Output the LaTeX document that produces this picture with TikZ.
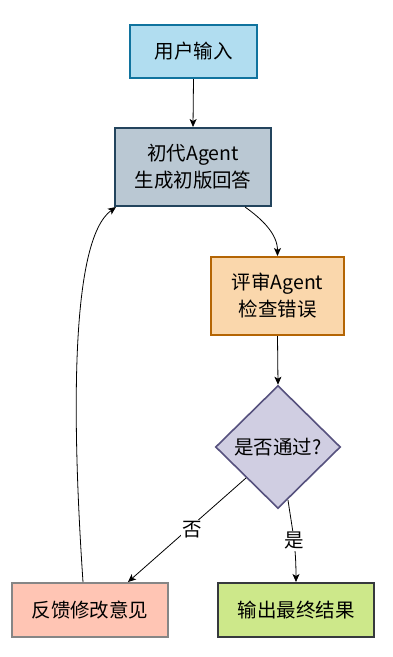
\documentclass[tikz,border=0pt]{standalone}
\usepackage{fontspec}
\setmainfont{Noto Sans CJK SC}
\usetikzlibrary{shapes.geometric,arrows.meta}
\definecolor{bluefill}{HTML}{B1DDF0}\definecolor{bluedraw}{HTML}{10739E}
\definecolor{grayfill}{HTML}{BAC8D3}\definecolor{graydraw}{HTML}{23445D}
\definecolor{orfill}{HTML}{FAD7AC}\definecolor{ordraw}{HTML}{B46504}
\definecolor{pufill}{HTML}{D0CEE2}\definecolor{pudraw}{HTML}{56517E}
\definecolor{rdfill}{HTML}{FFC5B4}\definecolor{rddraw}{HTML}{868686}
\definecolor{grfill}{HTML}{CDE88A}\definecolor{grdraw}{HTML}{36393D}
\tikzset{
  box/.style={draw, line width=2pt, inner sep=0pt, align=center,
    font=\fontsize{19.5}{27}\selectfont, text=black},
  conn/.style={draw=black, line width=0.8pt, -{Stealth[length=8pt,width=7pt,inset=2pt]}},
  lbl/.style={fill=white, inner sep=1.5pt, font=\fontsize{19.5}{22}\selectfont}
}
\begin{document}
\begin{tikzpicture}[x=1pt,y=-1pt]
\useasboundingbox (0,0) rectangle (392,657);
\node[box, fill=bluefill, draw=bluedraw, minimum width=127pt, minimum height=53pt] (in) at (193.5,51.5) {用户输入};
\node[box, fill=grayfill, draw=graydraw, minimum width=156pt, minimum height=78pt] (gen) at (193,167) {初代Agent\\生成初版回答};
\node[box, fill=orfill, draw=ordraw, minimum width=133pt, minimum height=78pt] (rev) at (277.5,296) {评审Agent\\检查错误};
\node[box, shape=diamond, aspect=1, fill=pufill, draw=pudraw, minimum width=125pt, minimum height=123pt, line width=1.6pt] (dec) at (278,447) {是否通过?};
\node[box, fill=rdfill, draw=rddraw, minimum width=156pt, minimum height=54pt] (fb) at (90,610) {反馈修改意见};
\node[box, fill=grfill, draw=grdraw, minimum width=156pt, minimum height=54pt] (out) at (296,610) {输出最终结果};

\draw[conn] (in.south) -- (gen.north);
\draw[conn] ([xshift=52pt]gen.south) .. controls +(17,12) and +(0,-22) .. (rev.north);
\draw[conn] (rev.south) -- (dec.north);
\draw[conn] ([xshift=-32pt,yshift=-31pt]dec.center) -- node[lbl, pos=0.5, xshift=5pt] {否} ([xshift=38pt]fb.north);
\draw[conn] ([xshift=10pt,yshift=-53pt]dec.center) .. controls +(4,28) and +(0,-38) .. node[lbl, pos=0.55] {是} (out.north);
\draw[conn] ([xshift=-7pt]fb.north) .. controls (72,420) and (70,240) .. ([xshift=2pt]gen.south west);
\end{tikzpicture}
\end{document}
